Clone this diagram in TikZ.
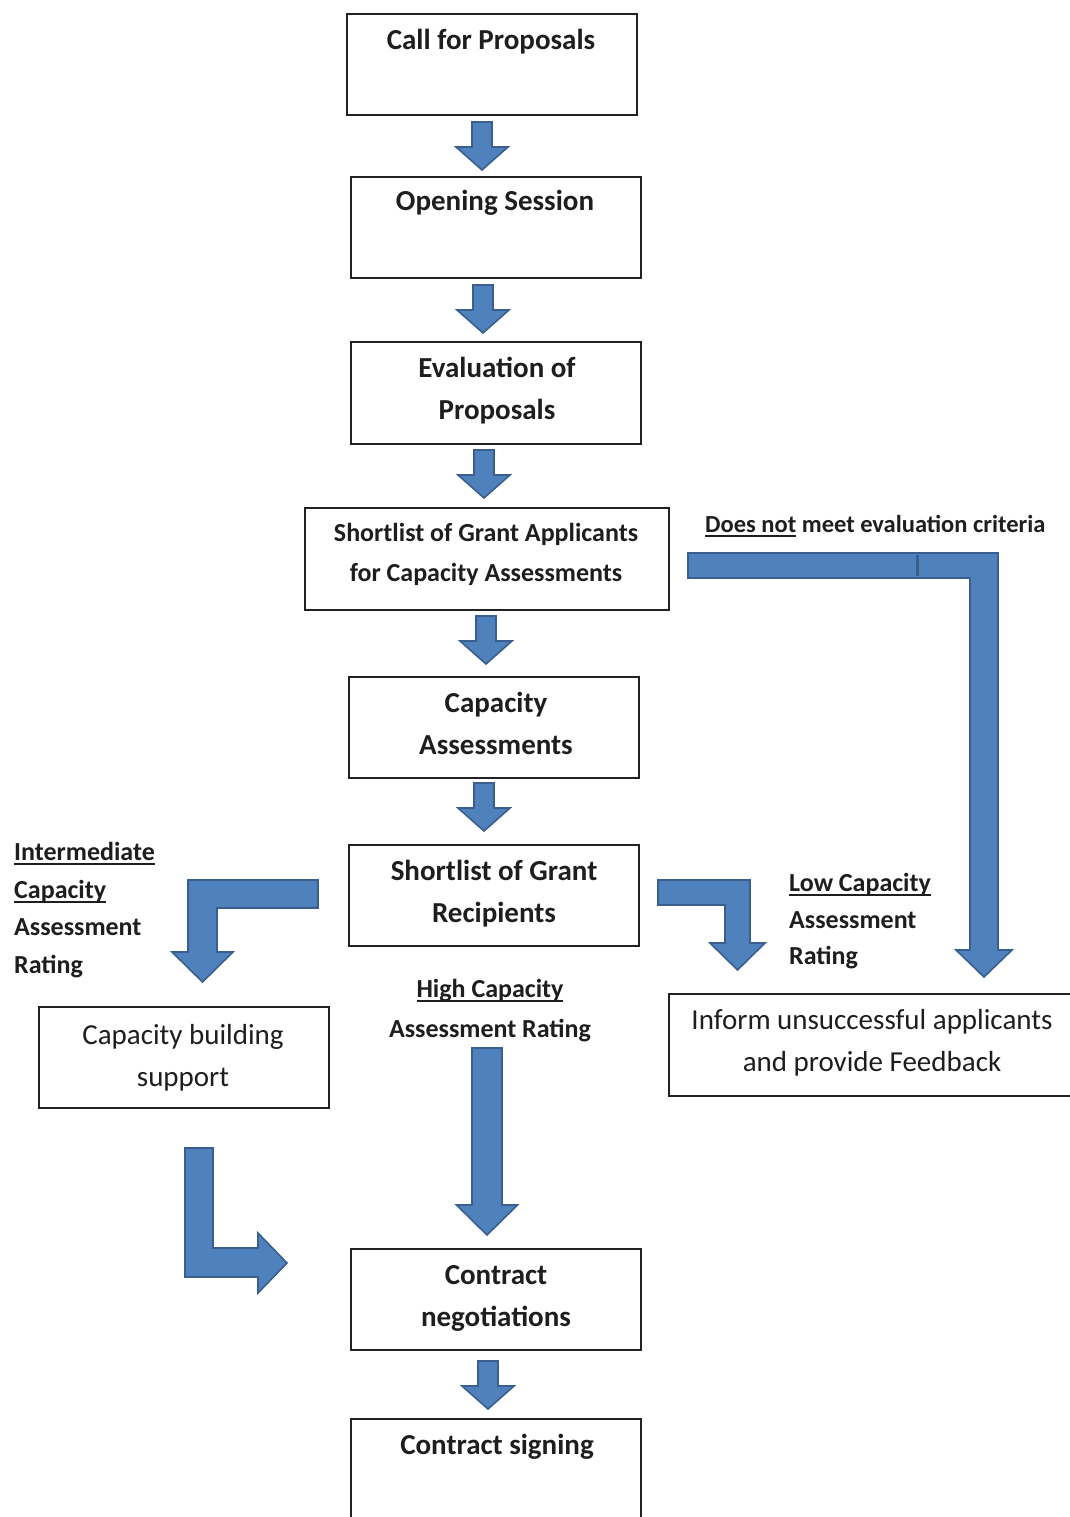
\documentclass[tikz,border=0pt]{standalone}
\usepackage{fontspec}
\setmainfont{Carlito}
\definecolor{arrfill}{HTML}{4F81BD}
\definecolor{arrline}{HTML}{3A5F8F}
\definecolor{txt}{HTML}{1E1E1E}
\definecolor{boxline}{HTML}{222222}
\newcommand\myul[1]{\leavevmode\setbox0\hbox{#1}\rlap{\vrule width\wd0 height -3pt depth 5pt}\box0\relax}
\newcommand\dnarrow[6]{%
  \filldraw[blockarrow] ({#1-#4/2},#2) -- ({#1+#4/2},#2) -- ({#1+#4/2},{#3-#6}) -- ({#1+#5/2},{#3-#6})
    -- (#1,#3) -- ({#1-#5/2},{#3-#6}) -- ({#1-#4/2},{#3-#6}) -- cycle;}
\tikzset{
  box/.style={draw=boxline, line width=1.6pt, minimum width=290pt, minimum height=101pt, inner sep=0pt, outer sep=0pt},
  bt/.style={anchor=base, inner sep=0pt, text=txt, font=\fontsize{29}{34}\selectfont\bfseries},
  rt/.style={anchor=base, inner sep=0pt, text=txt, font=\fontsize{29}{34}\selectfont},
  st/.style={anchor=base west, inner sep=0pt, text=txt, font=\fontsize{26}{30}\selectfont\bfseries},
  sc/.style={anchor=base, inner sep=0pt, text=txt, font=\fontsize{26}{30}\selectfont\bfseries},
  blockarrow/.style={fill=arrfill, draw=arrline, line width=1.6pt, line join=miter},
}
\begin{document}
\begin{tikzpicture}[x=1pt,y=-1pt]
\useasboundingbox (0,0) rectangle (1070,1517);
\clip (0,0) rectangle (1070,1517);
\fill[white] (0,0) rectangle (1070,1517);

% boxes
\node[box] (b1) at (492,64.5) {};
\node[box] (b2) at (496,227.5) {};
\node[box, minimum height=102pt] (b3) at (496,393) {};
\node[box, minimum width=364pt, minimum height=102pt] (b4) at (487,559) {};
\node[box] (b5) at (494,727.5) {};
\node[box] (b6) at (494,895.5) {};
\node[box] (b7) at (184,1057.5) {};
\node[box, minimum width=430pt, minimum height=102pt] (b8) at (884,1045) {};
\node[box] (b9) at (496,1299.5) {};
\node[box, minimum height=110pt] (b10) at (496,1474) {};

% box texts
\node[bt] (t1) at (491,50) {Call for Proposals};
\node[bt] (t2) at (495,211) {Opening Session};
\node[bt] (t3a) at (497,377) {Evaluation of};
\node[bt] (t3b) at (497,419) {Proposals};
\node[sc] (t4a) at (486,541) {Shortlist of Grant Applicants};
\node[sc] (t4b) at (486,581) {for Capacity Assessments};
\node[bt] (t5a) at (496,712) {Capacity};
\node[bt] (t5b) at (496,754) {Assessments};
\node[bt] (t6a) at (494,880) {Shortlist of Grant};
\node[bt] (t6b) at (494,922) {Recipients};
\node[rt] (t7a) at (183,1044) {Capacity building};
\node[rt] (t7b) at (183,1086) {support};
\node[rt] (t8a) at (872,1029) {Inform unsuccessful applicants};
\node[rt] (t8b) at (872,1071) {and provide Feedback};
\node[bt] (t9a) at (496,1284) {Contract};
\node[bt] (t9b) at (496,1326) {negotiations};
\node[bt] (t10) at (497,1454) {Contract signing};

% side labels
\node[st, font=\fontsize{24.5}{28}\selectfont\bfseries] (l0) at (705,532) {\myul{Does not} meet evaluation criteria};
\node[st] (l1a) at (14,860) {\myul{Intermediate}};
\node[st] (l1b) at (14,898) {\myul{Capacity}};
\node[st] (l1c) at (14,935) {Assessment};
\node[st] (l1d) at (14,973) {Rating};
\node[st] (l2a) at (789,891) {\myul{Low Capacity}};
\node[st] (l2b) at (789,928) {Assessment};
\node[st] (l2c) at (789,964) {Rating};
\node[sc] (l3a) at (490,997) {\myul{High Capacity}};
\node[sc] (l3b) at (490,1037) {Assessment Rating};

% straight block arrows between boxes
\dnarrow{482}{122}{170}{20}{52}{23}
\dnarrow{483}{285}{333}{20}{52}{23}
\dnarrow{484}{450}{498}{20}{52}{23}
\dnarrow{486}{616}{664}{20}{52}{23}
\dnarrow{484}{783}{831}{20}{52}{23}
\dnarrow{488}{1361}{1409}{20}{52}{23}
% high capacity arrow
\dnarrow{487}{1048}{1235}{30}{61}{30}

% does not meet criteria bent arrow
\filldraw[blockarrow] (688,553) -- (998,553) -- (998,950) -- (1012,950) -- (984,977) -- (956,950)
  -- (970,950) -- (970,578) -- (688,578) -- cycle;
\draw[arrline, line width=3pt] (917,555) -- (917,576);

% low capacity bent arrow
\filldraw[blockarrow] (658,880) -- (750,880) -- (750,943) -- (765,943) -- (737.5,970) -- (710,943)
  -- (725,943) -- (725,905) -- (658,905) -- cycle;

% intermediate bent arrow
\filldraw[blockarrow] (318,880) -- (188,880) -- (188,952) -- (172,952) -- (202.5,982) -- (233,952)
  -- (217,952) -- (217,908) -- (318,908) -- cycle;

% L arrow to contract negotiations
\filldraw[blockarrow] (185,1148) -- (213,1148) -- (213,1248) -- (258,1248) -- (258,1233) -- (287,1263)
  -- (258,1293) -- (258,1277) -- (185,1277) -- cycle;
\end{tikzpicture}
\end{document}
